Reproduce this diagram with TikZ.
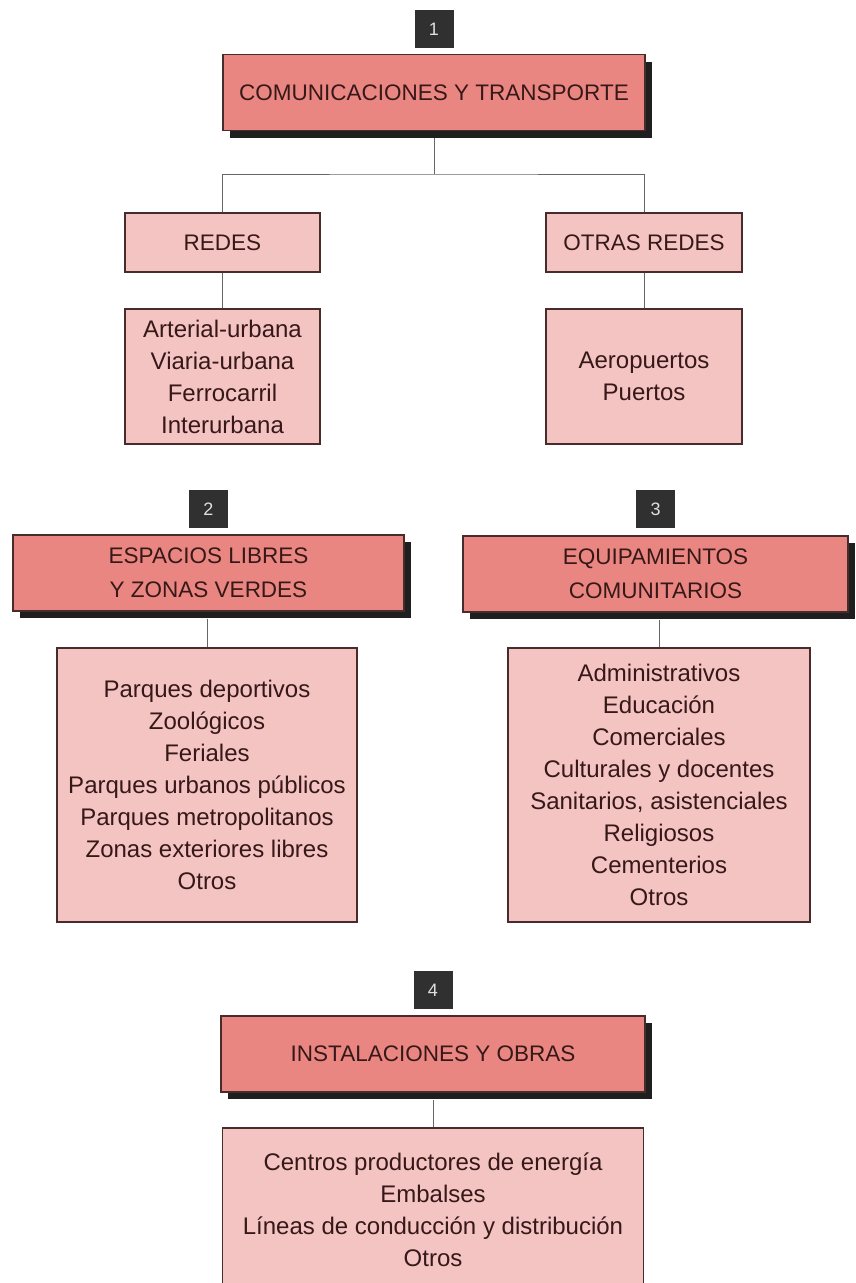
\documentclass[tikz,border=0pt]{standalone}
\usepackage{fontspec}
\setmainfont{Liberation Sans}
\usepackage{xcolor}
\usetikzlibrary{positioning,shapes,shadows}

\definecolor{headred}{RGB}{234,134,130}
\definecolor{listpink}{RGB}{244,196,194}
\definecolor{edgebrown}{RGB}{72,44,44}
\definecolor{inkbrown}{RGB}{55,24,24}
\definecolor{darkbox}{RGB}{48,48,48}

\begin{document}
\begin{tikzpicture}[x=1pt,y=-1pt]
\tikzstyle{every node}+=[inner sep=0pt, text=inkbrown, align=center]
\tikzstyle{numbox}=[fill=darkbox, minimum width=39pt, minimum height=38pt, text=black!12, font=\fontsize{18}{20}\selectfont]
\tikzstyle{headbox}=[draw=edgebrown, line width=1.2pt, fill=headred, minimum height=76pt, font=\fontsize{22.5}{34}\selectfont, drop shadow={shadow xshift=7pt, shadow yshift=-7pt, fill=black!88, opacity=1}]
\tikzstyle{subbox}=[draw=edgebrown, line width=1.2pt, fill=listpink, font=\fontsize{22.5}{32}\selectfont]
\tikzstyle{listbox}=[draw=edgebrown, line width=1.2pt, fill=listpink, font=\fontsize{24}{32}\selectfont]
\tikzstyle{link}=[draw=black!60, line width=0.9pt]
\clip (0,0) rectangle (855,1283);
% 1
\node[numbox] (num1) at (434,29) {1};
\node[headbox, minimum width=422pt] (head1) at (434,92.5) {COMUNICACIONES Y TRANSPORTE};
\node[subbox, minimum width=195pt, minimum height=59pt] (redes) at (222.5,242.5) {REDES};
\node[subbox, minimum width=196pt, minimum height=59pt] (otras) at (644,242.5) {OTRAS REDES};
\node[listbox, minimum width=195pt, minimum height=135pt] (redlist) at (222.5,376.5)
  {Arterial-urbana\\Viaria-urbana\\Ferrocarril\\Interurbana};
\node[listbox, minimum width=196pt, minimum height=135pt] (otrlist) at (644,376.5)
  {Aeropuertos\\Puertos};
\coordinate (fork) at (434,174);
\draw[link] ([yshift=-7pt]head1.south) -- (fork);
\draw[link] (redes.north) |- (fork) -| (otras.north);
\draw[link] (redes.south) -- (redlist.north);
\draw[link] (otras.south) -- (otrlist.north);
% 2
\node[numbox] (num2) at (208.5,509) {2};
\node[headbox, minimum width=391pt] (head2) at (208.5,573) {ESPACIOS LIBRES\\Y ZONAS VERDES};
\node[listbox, minimum width=300pt, minimum height=274pt] (verdes) at (207,785)
  {Parques deportivos\\Zoológicos\\Feriales\\Parques urbanos públicos\\Parques metropolitanos\\Zonas exteriores libres\\Otros};
\draw[link] ([yshift=-7pt]head2.south -| verdes.north) -- (verdes.north);
% 3
\node[numbox] (num3) at (655.5,509) {3};
\node[headbox, minimum width=385pt] (head3) at (655.5,574) {EQUIPAMIENTOS\\COMUNITARIOS};
\node[listbox, minimum width=302pt, minimum height=274pt] (equipos) at (659,785)
  {Administrativos\\Educación\\Comerciales\\Culturales y docentes\\Sanitarios, asistenciales\\Religiosos\\Cementerios\\Otros};
\draw[link] ([yshift=-7pt]head3.south -| equipos.north) -- (equipos.north);
% 4
\node[numbox] (num4) at (433,990) {4};
\node[headbox, minimum width=424pt] (head4) at (433,1054) {INSTALACIONES Y OBRAS};
\node[listbox, minimum width=421pt, minimum height=164pt] (obras) at (433,1210)
  {Centros productores de energía\\Embalses\\Líneas de conducción y distribución\\Otros};
\draw[link] ([yshift=-7pt]head4.south) -- (obras.north);
\end{tikzpicture}
\end{document}
